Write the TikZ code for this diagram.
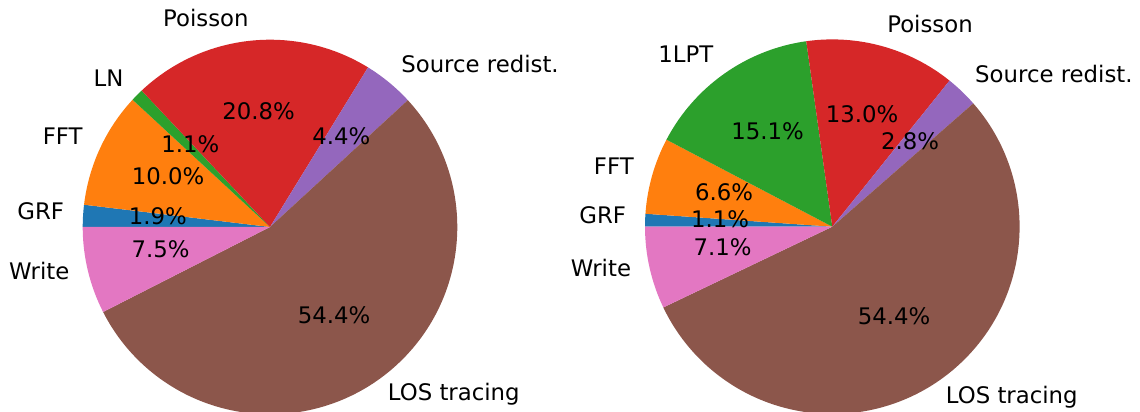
\documentclass[tikz,border=0pt]{standalone}
\usepackage{fontspec}
\setmainfont{DejaVu Sans}
\usetikzlibrary{calc}
\definecolor{tabblue}{HTML}{1F77B4}
\definecolor{taborange}{HTML}{FF7F0E}
\definecolor{tabgreen}{HTML}{2CA02C}
\definecolor{tabred}{HTML}{D62728}
\definecolor{tabpurple}{HTML}{9467BD}
\definecolor{tabbrown}{HTML}{8C564B}
\definecolor{tabpink}{HTML}{E377C2}

\begin{document}
\begin{tikzpicture}[
  x=0.5pt, y=0.5pt,
  lbl/.style={inner sep=0pt, text height=0.72em, text depth=0.28em,
    font=\fontsize{11.4pt}{13pt}\selectfont},
  pct/.style={lbl, anchor=center},
  lft/.style={lbl, anchor=east},
  rgt/.style={lbl, anchor=west},
]
\useasboundingbox (0,0) rectangle (1140,412);
\coordinate (cL) at (270,185);
\coordinate (cR) at (832.3,185.3);

% left pie
\fill[tabblue]   (cL) -- +(180:187.3)    arc[start angle=180,    end angle=173.17,  radius=187.3] -- cycle;
\fill[taborange] (cL) -- +(173.17:187.3) arc[start angle=173.17, end angle=137.20,  radius=187.3] -- cycle;
\fill[tabgreen]  (cL) -- +(137.20:187.3) arc[start angle=137.20, end angle=133.25,  radius=187.3] -- cycle;
\fill[tabred]    (cL) -- +(133.25:187.3) arc[start angle=133.25, end angle=58.44,   radius=187.3] -- cycle;
\fill[tabpurple] (cL) -- +(58.44:187.3)  arc[start angle=58.44,  end angle=42.62,   radius=187.3] -- cycle;
\fill[tabbrown]  (cL) -- +(42.62:187.3)  arc[start angle=42.62,  end angle=-153.02, radius=187.3] -- cycle;
\fill[tabpink]   (cL) -- +(-153.02:187.3) arc[start angle=-153.02, end angle=-180,  radius=187.3] -- cycle;

\node[lft] (lgrf)  at ($(cL)+(176.58:206)$) {GRF};
\node[lft] (lfft)  at ($(cL)+(155.19:206)$) {FFT};
\node[lft] (lln)   at ($(cL)+(135.22:206)$) {LN};
\node[lft] (lpois) at ($(cL)+(95.85:206)$)  {Poisson};
\node[rgt] (lsrc)  at ($(cL)+(50.53:206)$)  {Source redist.};
\node[rgt] (llos)  at ($(cL)+(-55.2:206)$)  {LOS tracing};
\node[lft] (lwri)  at ($(cL)+(-166.51:206)$) {Write};

\node[pct] (pgrf)  at ($(cL)+(176.58:112.4)$) {1.9\%};
\node[pct] (pfft)  at ($(cL)+(155.19:112.4)$) {10.0\%};
\node[pct] (pln)   at ($(cL)+(135.22:112.4)$) {1.1\%};
\node[pct] (ppois) at ($(cL)+(95.85:112.4)$)  {20.8\%};
\node[pct] (psrc)  at ($(cL)+(50.53:112.4)$)  {4.4\%};
\node[pct] (plos)  at ($(cL)+(-55.2:112.4)$)  {54.4\%};
\node[pct] (pwri)  at ($(cL)+(-166.51:112.4)$) {7.5\%};

% right pie
\fill[tabblue]   (cR) -- +(180:187.3)    arc[start angle=180,    end angle=176.04,  radius=187.3] -- cycle;
\fill[taborange] (cR) -- +(176.04:187.3) arc[start angle=176.04, end angle=152.31,  radius=187.3] -- cycle;
\fill[tabgreen]  (cR) -- +(152.31:187.3) arc[start angle=152.31, end angle=98.00,   radius=187.3] -- cycle;
\fill[tabred]    (cR) -- +(98.00:187.3)  arc[start angle=98.00,  end angle=51.25,   radius=187.3] -- cycle;
\fill[tabpurple] (cR) -- +(51.25:187.3)  arc[start angle=51.25,  end angle=41.18,   radius=187.3] -- cycle;
\fill[tabbrown]  (cR) -- +(41.18:187.3)  arc[start angle=41.18,  end angle=-154.46, radius=187.3] -- cycle;
\fill[tabpink]   (cR) -- +(-154.46:187.3) arc[start angle=-154.46, end angle=-180,  radius=187.3] -- cycle;

\node[lft] (rgrf)  at ($(cR)+(178.02:206)$) {GRF};
\node[lft] (rfft)  at ($(cR)+(164.18:206)$) {FFT};
\node[lft] (rlpt)  at ($(cR)+(125.16:206)$) {1LPT};
\node[rgt] (rpois) at ($(cR)+(74.63:206)$)  {Poisson};
\node[rgt] (rsrc)  at ($(cR)+(46.22:206)$)  {Source redist.};
\node[rgt] (rlos)  at ($(cR)+(-56.64:206)$) {LOS tracing};
\node[lft] (rwri)  at ($(cR)+(-167.23:206)$) {Write};

\node[pct] (qgrf)  at ($(cR)+(178.02:112.4)$) {1.1\%};
\node[pct] (qfft)  at ($(cR)+(164.18:112.4)$) {6.6\%};
\node[pct] (qlpt)  at ($(cR)+(125.16:112.4)$) {15.1\%};
\node[pct] (qpois) at ($(cR)+(74.63:112.4)$)  {13.0\%};
\node[pct] (qsrc)  at ($(cR)+(46.22:112.4)$)  {2.8\%};
\node[pct] (qlos)  at ($(cR)+(-56.64:112.4)$) {54.4\%};
\node[pct] (qwri)  at ($(cR)+(-167.23:112.4)$) {7.1\%};
\end{tikzpicture}
\end{document}
